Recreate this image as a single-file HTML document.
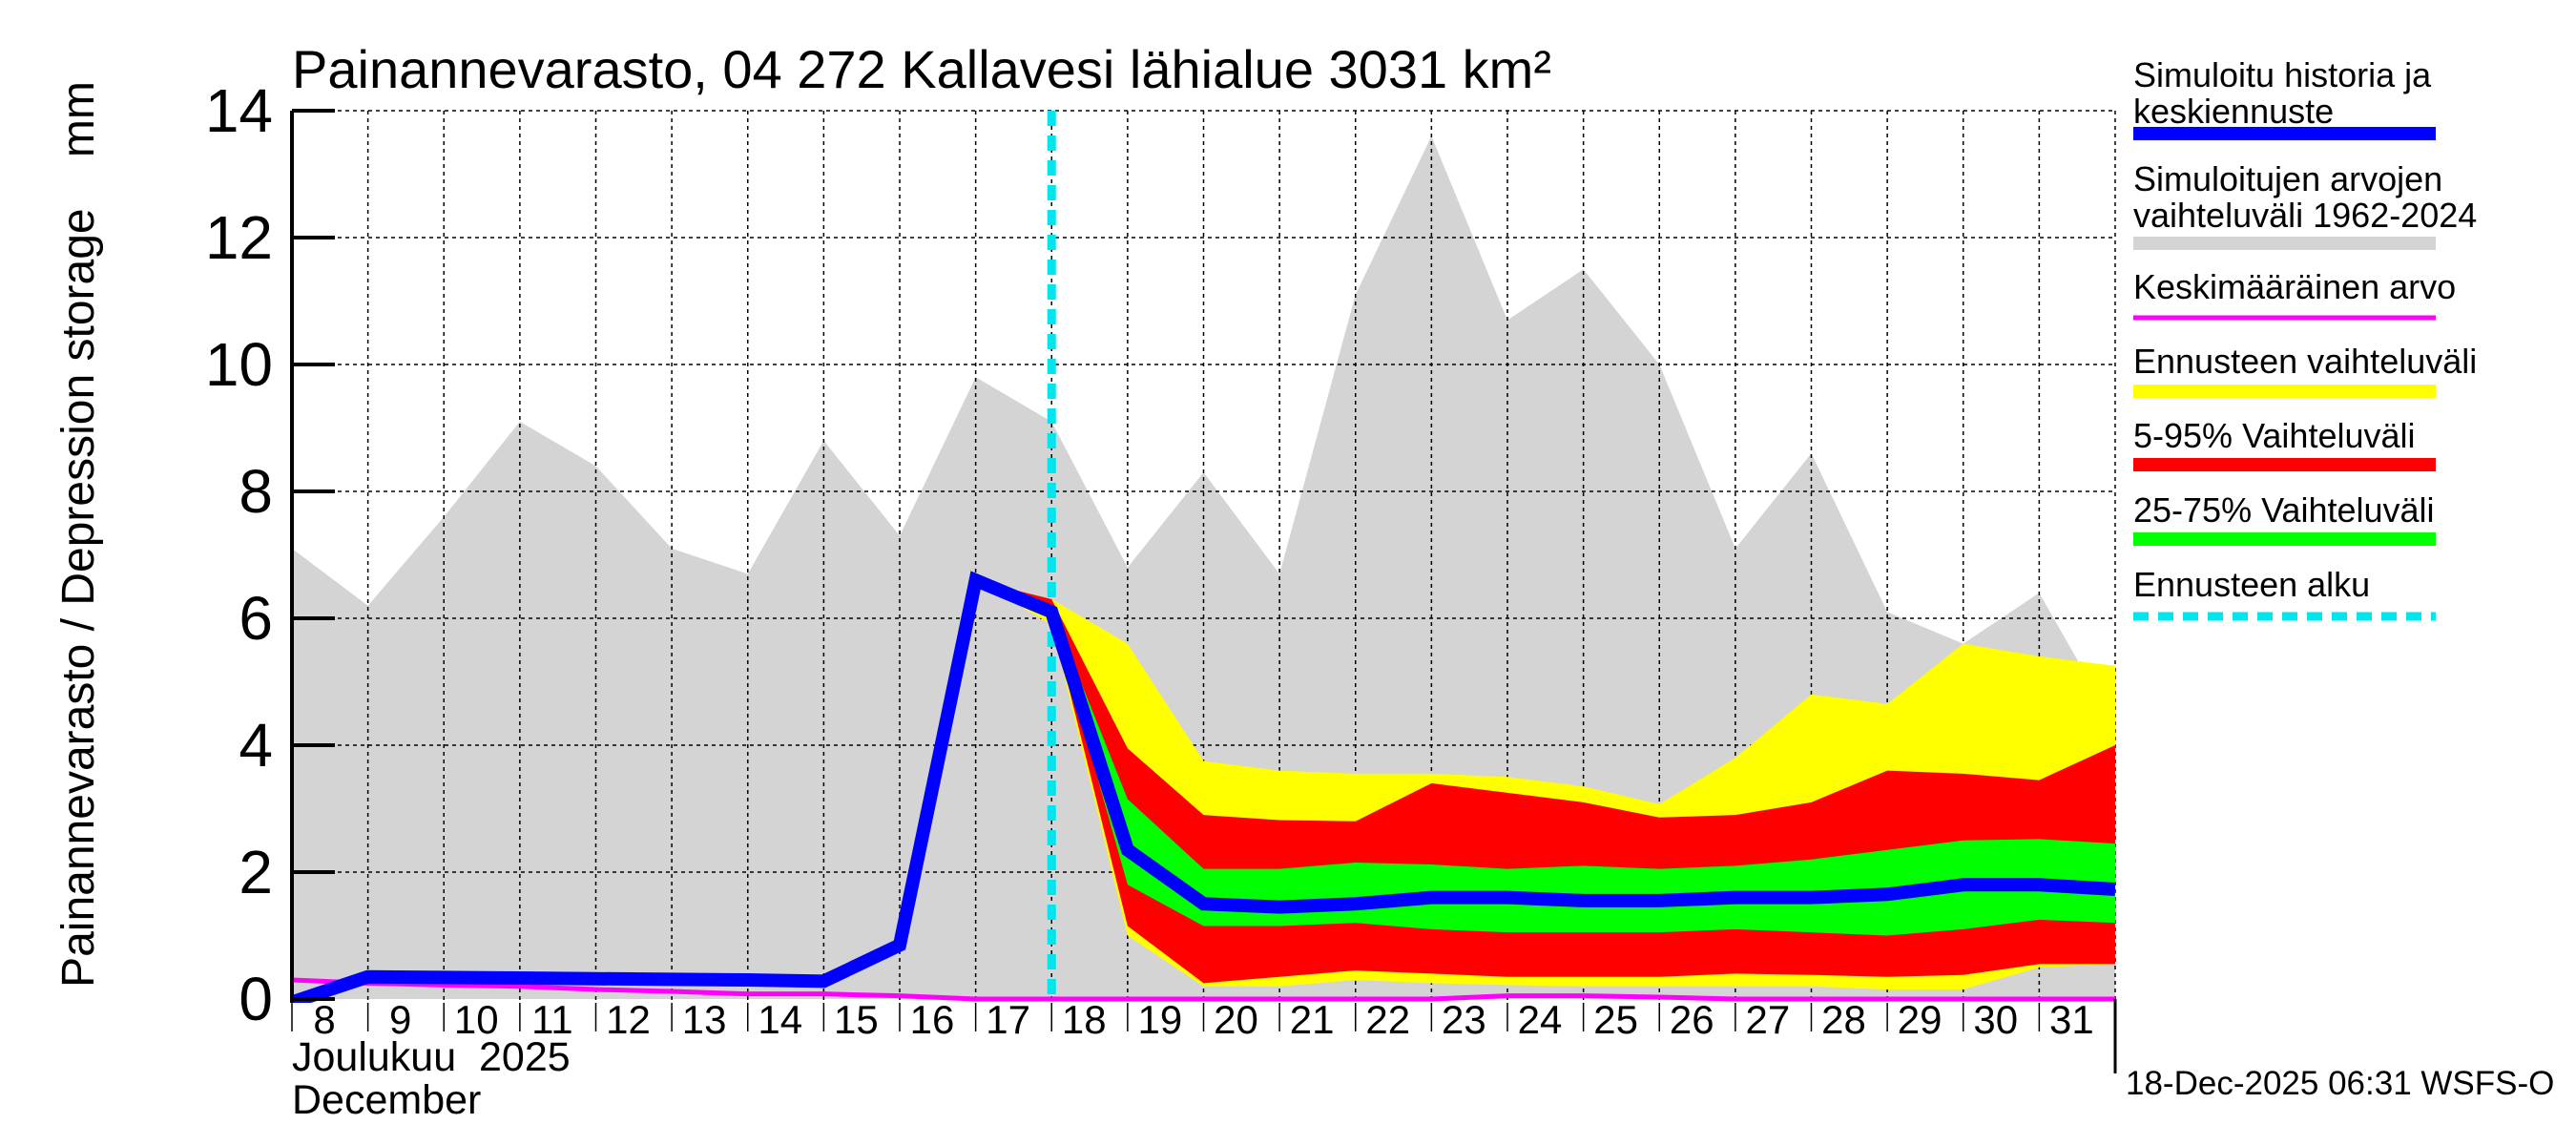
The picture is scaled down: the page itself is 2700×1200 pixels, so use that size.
<!DOCTYPE html>
<html><head><meta charset="utf-8"><style>
html,body{margin:0;padding:0;background:#fff;}
svg{display:block;font-family:"Liberation Sans",sans-serif;}
</style></head><body>
<svg id="chart" width="2700" height="1200" viewBox="0 0 2700 1200">
<text x="306" y="92" font-size="56">Painannevarasto, 04 272 Kallavesi lähialue 3031 km²</text>
<text transform="translate(98,560) rotate(-90)" text-anchor="middle" font-size="48" xml:space="preserve" style="white-space:pre">Painannevarasto / Depression storage    mm</text>
<g id="plot"></g>
<text x="306" y="1122" font-size="43" xml:space="preserve" style="white-space:pre">Joulukuu  2025</text>
<text x="306" y="1167" font-size="43">December</text>
<text x="2228" y="1147" font-size="35">18-Dec-2025 06:31 WSFS-O</text>
<g id="legend"></g>
</svg>
<script>
// day index 0 = Dec 8 ... 24 = Jan 1
const dayLabels = ["8","9","10","11","12","13","14","15","16","17","18","19","20","21","22","23","24","25","26","27","28","29","30","31"];
const yTicks = [0,2,4,6,8,10,12,14];
const histUpper = [7.1,6.2,7.6,9.1,8.4,7.1,6.7,8.8,7.3,9.8,9.1,6.8,8.3,6.7,11.1,13.6,10.7,11.5,10.0,7.1,8.6,6.1,5.6,6.4,4.3];
const histLower = [0,0,0,0,0,0,0,0,0,0,0,0,0,0,0,0,0,0,0,0,0,0,0,0,0];
const meanValues = [0.3,0.25,0.22,0.2,0.15,0.12,0.08,0.08,0.05,0.0,0.0,0.0,0.0,0.0,0.0,0.0,0.05,0.05,0.03,0.0,0.0,0.0,0.0,0.0,0.0];
const simValues = [-0.05,0.35,0.34,0.33,0.32,0.31,0.3,0.28,0.85,6.6,6.1,2.35,1.5,1.45,1.5,1.6,1.6,1.55,1.55,1.6,1.6,1.65,1.8,1.8,1.73];
const fcStart = 9; // forecast bands start at index 9 (Dec 17)
const yellowUpper = [6.6,6.3,5.6,3.75,3.6,3.55,3.55,3.5,3.35,3.07,3.8,4.8,4.65,5.6,5.4,5.25];
const yellowLower = [6.6,5.9,1.0,0.2,0.2,0.3,0.25,0.22,0.2,0.2,0.2,0.2,0.15,0.15,0.5,0.55];
const redUpper = [6.6,6.3,3.95,2.9,2.82,2.8,3.4,3.25,3.1,2.86,2.9,3.1,3.6,3.55,3.45,4.0];
const redLower = [6.6,6.0,1.15,0.25,0.35,0.45,0.4,0.35,0.35,0.35,0.4,0.38,0.35,0.38,0.55,0.55];
const greenUpper = [6.6,6.15,3.15,2.05,2.05,2.15,2.12,2.05,2.1,2.05,2.1,2.2,2.35,2.5,2.52,2.45];
const greenLower = [6.6,6.05,1.8,1.15,1.15,1.2,1.1,1.05,1.05,1.05,1.1,1.05,1.0,1.1,1.25,1.2];
const forecastStartIndex = 10;

const X0=306, X1=2217, Y0=1047, Y1=116, ND=24;
const xs = d => X0 + d*(X1-X0)/ND;
const ys = v => Y0 - v*(Y0-Y1)/14;
const NS="http://www.w3.org/2000/svg";
const plot=document.getElementById('plot');
function mk(tag,attrs,parent){const e=document.createElementNS(NS,tag);for(const k in attrs)e.setAttribute(k,attrs[k]);(parent||plot).appendChild(e);return e;}
function band(up,lo,off,color,name){
  let pts=[];
  up.forEach((v,i)=>pts.push(xs(i+off)+','+ys(v)));
  for(let i=lo.length-1;i>=0;i--)pts.push(xs(i+off)+','+ys(lo[i]));
  const p=mk('polygon',{points:pts.join(' '),fill:color});
  
  
}
function line(vals,off,color,w,name){
  const p=mk('polyline',{points:vals.map((v,i)=>xs(i+off)+','+ys(v)).join(' '),fill:'none',stroke:color,'stroke-width':w,'stroke-linejoin':'miter'});
  
  
}
const clip=mk('clipPath',{id:'cp'});mk('rect',{x:X0,y:Y1,width:X1-X0,height:Y0-Y1+4},clip);
band(histUpper,histLower,0,'#d4d4d4','history-range-band');
// grid
yTicks.forEach(v=>{ if(v>0){const g=mk('line',{x1:X0,x2:X1,y1:ys(v),y2:ys(v),stroke:'#000','stroke-width':1.5,'stroke-dasharray':'4,4'});

}});
for(let d=1;d<=ND;d++){const g=mk('line',{x1:xs(d),x2:xs(d),y1:Y1,y2:Y0+4,stroke:'#000','stroke-width':1.5,'stroke-dasharray':'4,4'});

}
band(yellowUpper,yellowLower,fcStart,'#ffff00','forecast-range-band');
band(redUpper,redLower,fcStart,'#ff0000','band-5-95');
band(greenUpper,greenLower,fcStart,'#00ff00','band-25-75');
const cl=mk('line',{x1:xs(forecastStartIndex),x2:xs(forecastStartIndex),y1:Y1,y2:Y0,stroke:'#00e5ee','stroke-width':9,'stroke-dasharray':'16,10'});


line(meanValues,0,'#ff00ff',5,'mean-line');
const g2=mk('g',{'clip-path':'url(#cp)'});
const sp=mk('polyline',{points:simValues.map((v,i)=>xs(i)+','+ys(v)).join(' '),fill:'none',stroke:'#0000ff','stroke-width':14},g2);


// axes
const ax=mk('line',{x1:X0,x2:X0,y1:Y1,y2:Y0+4,stroke:'#000','stroke-width':4});


yTicks.forEach(v=>{
  const t=mk('line',{x1:X0,x2:X0+45,y1:ys(v),y2:ys(v),stroke:'#000','stroke-width':4});
  
  
  const l=mk('text',{x:X0-20,y:ys(v)+22,'text-anchor':'end','font-size':64});
  l.textContent=v;
  
  
});
dayLabels.forEach((s,i)=>{
  const t=mk('line',{x1:xs(i),x2:xs(i),y1:Y0+4,y2:Y0+34,stroke:'#000','stroke-width':1.5});
  
  
  const l=mk('text',{x:xs(i)+34,y:1083,'text-anchor':'middle','font-size':42});
  l.textContent=s;
  
  
});
const et=mk('line',{x1:X1,x2:X1,y1:Y0,y2:1125,stroke:'#000','stroke-width':3});


// legend
const lg=document.getElementById('legend');
const legendItems=[
 [["Simuloitu historia ja","keskiennuste"],'#0000ff',78,140,14,null],
 [["Simuloitujen arvojen","vaihteluväli 1962-2024"],'#d4d4d4',187,255,14,null],
 [["Keskimääräinen arvo"],'#ff00ff',300,333,5,null],
 [["Ennusteen vaihteluväli"],'#ffff00',378,410,14,null],
 [["5-95% Vaihteluväli"],'#ff0000',456,487,14,null],
 [["25-75% Vaihteluväli"],'#00ff00',534,565,14,null],
 [["Ennusteen alku"],'#00e5ee',612,646,9,'16,10']
];
legendItems.forEach(it=>{
  const g=mk('g',{},lg);
  
  
  it[0].forEach((s,k)=>{const t=mk('text',{x:2236,y:it[2]+k*38+13,'font-size':36},g);t.textContent=s;});
  const a={x1:2236,x2:2553,y1:it[3],y2:it[3],stroke:it[1],'stroke-width':it[4]};
  if(it[5])a['stroke-dasharray']=it[5];
  mk('line',a,g);
});
</script>
</body></html>
